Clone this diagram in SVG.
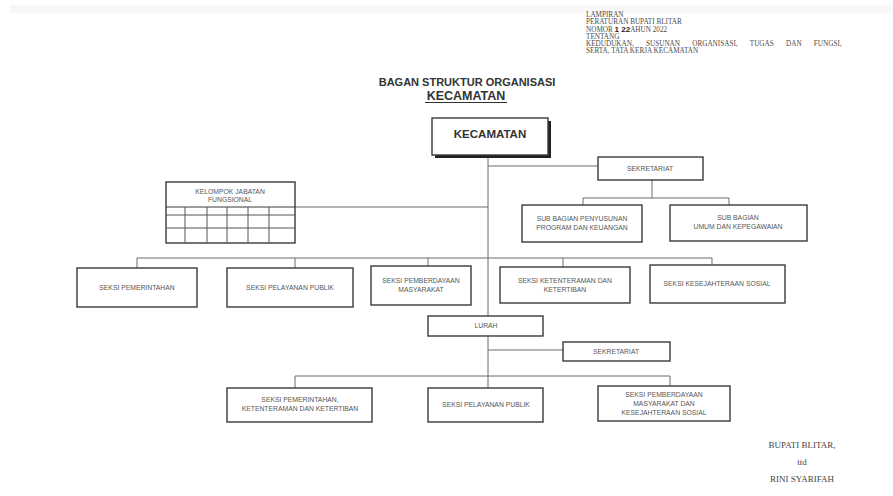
<svg xmlns="http://www.w3.org/2000/svg" width="893" height="496" viewBox="0 0 893 496">
<style>
.box{fill:#fff;stroke:#3a3a3a;stroke-width:1.4}
.lbl{font-family:"Liberation Sans",Arial,sans-serif;font-size:6.8px;fill:#555;text-anchor:middle}
.hdr{font-family:"Liberation Serif","Times New Roman",serif;font-size:7.2px;fill:#4a4a4a}
.sig{font-family:"Liberation Serif","Times New Roman",serif;font-size:9px;fill:#444;text-anchor:middle}
.conn line,.conn path{stroke:#6a6a6a;stroke-width:1;fill:none}
</style>
<rect width="893" height="496" fill="#fff"/>
<rect x="10" y="5" width="883" height="8" fill="#f7f7f7"/>
<g id="header">
<text class="hdr" x="586" y="17">LAMPIRAN</text>
<text class="hdr" x="586" y="24">PERATURAN BUPATI BLITAR</text>
<text class="hdr" x="586" y="32">NOMOR <tspan font-family="Liberation Sans,Arial,sans-serif" font-weight="bold" font-size="8" fill="#222">1 22</tspan>AHUN 2022</text>
<text class="hdr" x="586" y="39">TENTANG</text>
<text class="hdr" x="586" y="46" word-spacing="10.5">KEDUDUKAN, SUSUNAN ORGANISASI, TUGAS DAN FUNGSI,</text>
<text class="hdr" x="586" y="53">SERTA, TATA KERJA KECAMATAN</text>
</g>
<g id="title">
<text x="467" y="86" font-family="Liberation Sans,Arial,sans-serif" font-weight="bold" font-size="11" fill="#333" text-anchor="middle">BAGAN STRUKTUR ORGANISASI</text>
<text x="466" y="100" font-family="Liberation Sans,Arial,sans-serif" font-weight="bold" font-size="12.5" fill="#333" text-anchor="middle">KECAMATAN</text>
<line x1="425" y1="102.5" x2="507" y2="102.5" stroke="#333" stroke-width="1.2"/>
</g>
<g class="conn" id="connectors">
<line x1="488" y1="158" x2="488" y2="316"/>
<line x1="488" y1="166" x2="598" y2="166"/>
<line x1="652" y1="180" x2="652" y2="198"/>
<path d="M583 205 V198 H729 V205"/>
<line x1="295" y1="207" x2="488" y2="207"/>
<path d="M137 268 V258 H712 V265"/>
<line x1="295" y1="258" x2="295" y2="268"/>
<line x1="428" y1="258" x2="428" y2="266"/>
<line x1="563" y1="258" x2="563" y2="267"/>
<line x1="488" y1="336" x2="488" y2="388"/>
<line x1="488" y1="350" x2="563" y2="350"/>
<path d="M295 388 V376 H670 V386"/>
</g>
<g id="kecamatan">
<rect x="435" y="121" width="116" height="37" fill="#222"/>
<rect class="box" x="432" y="118" width="116" height="37"/>
<text x="490" y="138" font-family="Liberation Sans,Arial,sans-serif" font-weight="bold" font-size="11.5" fill="#333" text-anchor="middle">KECAMATAN</text>
</g>
<g id="sekretariat">
<rect class="box" x="598" y="157" width="105" height="23"/>
<text class="lbl" x="650" y="171">SEKRETARIAT</text>
</g>
<g id="kelompok-jabatan-fungsional">
<rect class="box" x="166" y="182" width="129" height="61"/>
<line x1="166" y1="207" x2="295" y2="207" stroke="#3a3a3a" stroke-width="1.2"/>
<g stroke="#555" stroke-width="1">
<line x1="166" y1="215" x2="295" y2="215"/>
<line x1="166" y1="228" x2="295" y2="228"/>
<line x1="185" y1="207" x2="185" y2="243"/>
<line x1="207" y1="207" x2="207" y2="243"/>
<line x1="227" y1="207" x2="227" y2="243"/>
<line x1="248" y1="207" x2="248" y2="243"/>
<line x1="269" y1="207" x2="269" y2="243"/>
</g>
<text class="lbl" x="230" y="194">KELOMPOK JABATAN</text>
<text class="lbl" x="230" y="202">FUNGSIONAL</text>
</g>
<g id="subbag-program">
<rect class="box" x="522" y="205" width="120" height="37"/>
<text class="lbl" x="582" y="221">SUB BAGIAN PENYUSUNAN</text>
<text class="lbl" x="582" y="230">PROGRAM DAN KEUANGAN</text>
</g>
<g id="subbag-umum">
<rect class="box" x="670" y="205" width="137" height="36"/>
<text class="lbl" x="738" y="220">SUB BAGIAN</text>
<text class="lbl" x="738" y="229">UMUM DAN KEPEGAWAIAN</text>
</g>
<g id="seksi-pemerintahan">
<rect class="box" x="77" y="268" width="120" height="39"/>
<text class="lbl" x="137" y="290">SEKSI PEMERINTAHAN</text>
</g>
<g id="seksi-pelayanan-publik">
<rect class="box" x="227" y="268" width="126" height="39"/>
<text class="lbl" x="290" y="290">SEKSI PELAYANAN PUBLIK</text>
</g>
<g id="seksi-pemberdayaan">
<rect class="box" x="371" y="266" width="100" height="39"/>
<text class="lbl" x="421" y="283">SEKSI PEMBERDAYAAN</text>
<text class="lbl" x="421" y="292">MASYARAKAT</text>
</g>
<g id="seksi-ketenteraman">
<rect class="box" x="500" y="267" width="130" height="36"/>
<text class="lbl" x="565" y="283">SEKSI KETENTERAMAN DAN</text>
<text class="lbl" x="565" y="292">KETERTIBAN</text>
</g>
<g id="seksi-kesejahteraan">
<rect class="box" x="650" y="265" width="135" height="38"/>
<text class="lbl" x="717" y="286">SEKSI KESEJAHTERAAN SOSIAL</text>
</g>
<g id="lurah">
<rect class="box" x="428" y="316" width="115" height="20"/>
<text class="lbl" x="486" y="328">LURAH</text>
</g>
<g id="sekretariat-kelurahan">
<rect class="box" x="563" y="342" width="107" height="19"/>
<text class="lbl" x="616" y="354">SEKRETARIAT</text>
</g>
<g id="seksi-pemerintahan-kel">
<rect class="box" x="227" y="388" width="145" height="34"/>
<text class="lbl" x="300" y="402">SEKSI PEMERINTAHAN,</text>
<text class="lbl" x="300" y="411">KETENTERAMAN DAN KETERTIBAN</text>
</g>
<g id="seksi-pelayanan-kel">
<rect class="box" x="428" y="388" width="115" height="34"/>
<text class="lbl" x="486" y="407">SEKSI PELAYANAN PUBLIK</text>
</g>
<g id="seksi-pemberdayaan-kel">
<rect class="box" x="598" y="386" width="132" height="35"/>
<text class="lbl" x="664" y="397">SEKSI PEMBERDAYAAN</text>
<text class="lbl" x="664" y="406">MASYARAKAT DAN</text>
<text class="lbl" x="664" y="415">KESEJAHTERAAN SOSIAL</text>
</g>
<g id="signature">
<text class="sig" x="802" y="448">BUPATI BLITAR,</text>
<text class="sig" x="802" y="465">ttd</text>
<text class="sig" x="802" y="482">RINI SYARIFAH</text>
</g>
</svg>
